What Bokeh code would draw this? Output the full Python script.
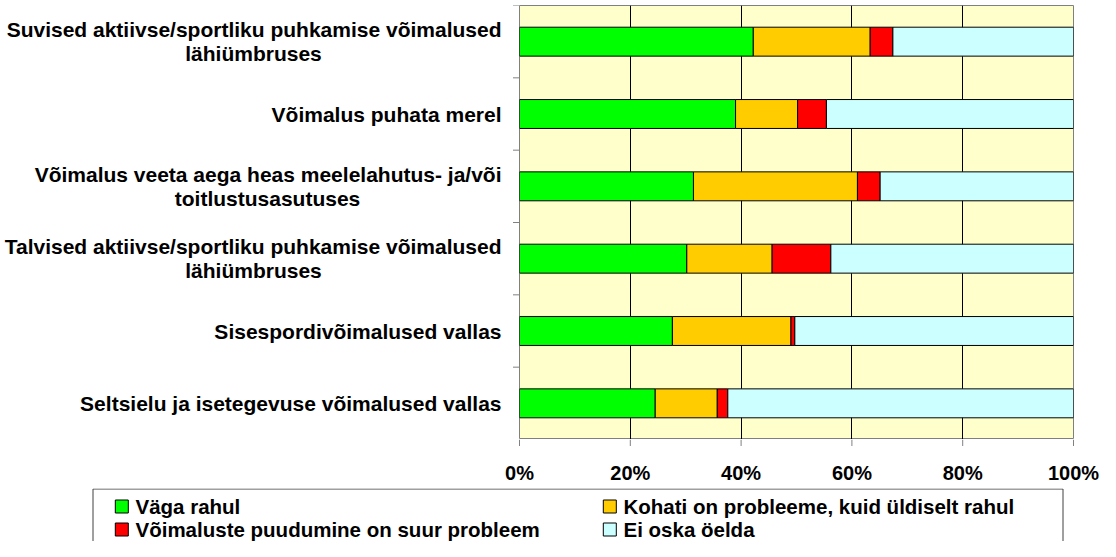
from bokeh.plotting import figure
from bokeh.layouts import column, row
from bokeh.models import ColumnDataSource, Range1d, FixedTicker
from bokeh.core.properties import value
from bokeh.embed import file_html
from bokeh.resources import INLINE

# ---------------- data ----------------
categories = [
    "Suvised aktiivse/sportliku puhkamise võimalused\nlähiümbruses",
    "Võimalus puhata merel",
    "Võimalus veeta aega heas meelelahutus- ja/või\ntoitlustusasutuses",
    "Talvised aktiivse/sportliku puhkamise võimalused\nlähiümbruses",
    "Sisespordivõimalused vallas",
    "Seltsielu ja isetegevuse võimalused vallas",
]
series_names = [
    "Väga rahul",
    "Kohati on probleeme, kuid üldiselt rahul",
    "Võimaluste puudumine on suur probleem",
    "Ei oska öelda",
]
vaga_rahul = [42.2, 39.0, 31.4, 30.2, 27.6, 24.5]
kohati = [21.1, 11.2, 29.6, 15.4, 21.4, 11.2]
puudumine = [4.1, 5.2, 4.1, 10.6, 0.7, 1.9]
ei_oska = [32.6, 44.6, 34.9, 43.8, 50.3, 62.4]
colors = ["#00FF00", "#FFCC00", "#FF0000", "#CCFFFF"]
x_ticks = [0, 20, 40, 60, 80, 100]
x_tick_labels = ["0%", "20%", "40%", "60%", "80%", "100%"]

FONT = "Liberation Sans"
n = len(categories)
keys = ["s0", "s1", "s2", "s3"]

src = ColumnDataSource(dict(
    y=[i + 0.5 for i in range(n)],
    s0=vaga_rahul, s1=kohati, s2=puudumine, s3=ei_oska,
))

W = 1100
yr = Range1d(n, 0)
TOP = 5
H_MAIN = 439          # page y 8 .. 447
H_X = 49              # page y 447 .. 496
H_LEG = 541 - H_MAIN - H_X
LW = 519
RB = 27
FRAME_W = W - LW - RB

common = dict(output_backend="svg", toolbar_location=None,
              border_fill_color="white")

# ---------------- main plot ----------------
p = figure(width=W - LW, height=H_MAIN, x_range=Range1d(0, 100), y_range=yr,
           min_border_left=0, min_border_right=RB,
           min_border_top=TOP, min_border_bottom=0,
           x_axis_type=None, y_axis_type=None,
           background_fill_color="#FFFFCC", outline_line_color="#808080", **common)
p.hbar_stack(keys, y="y", height=0.4, color=colors, line_color="black",
             line_width=1, source=src)
p.xgrid.visible = False
p.ygrid.visible = False
from bokeh.models import Grid
p.add_layout(Grid(dimension=0, ticker=FixedTicker(ticks=x_ticks[1:]),
                  grid_line_color="black", grid_line_width=1))

# ---------------- category labels + y tick marks ----------------
lf = figure(width=LW, height=H_MAIN, x_range=Range1d(0, LW), y_range=yr,
            x_axis_type=None, y_axis_type=None,
            min_border_left=0, min_border_right=0,
            min_border_top=TOP, min_border_bottom=0,
            outline_line_color=None, background_fill_color="white", **common)
lf.grid.visible = False
lf.segment(x0=[LW - 6.5] * (n + 1), x1=[LW] * (n + 1),
           y0=list(range(n + 1)), y1=list(range(n + 1)),
           line_color="#808080", line_width=1)

cat_px = (H_MAIN - TOP) / n
line_off = 12.0 / cat_px
second_line_center = [253, None, 267, 253, None, None]

r_x, r_y, r_t = [], [], []
c_x, c_y, c_t = [], [], []
for i, lab in enumerate(categories):
    parts = lab.split("\n")
    cy = i + 0.5
    if len(parts) == 1:
        r_x.append(501); r_y.append(cy); r_t.append(parts[0])
    else:
        r_x.append(501); r_y.append(cy - line_off); r_t.append(parts[0])
        c_x.append(second_line_center[i]); c_y.append(cy + line_off); c_t.append(parts[1])

cat_kw = dict(text_font=value(FONT), text_font_style="bold",
              text_font_size="21px", text_color="black", text_baseline="middle")
lf.text(x="x", y="y", text="t", text_align="right",
        source=ColumnDataSource(dict(x=r_x, y=r_y, t=r_t)), **cat_kw)
lf.text(x="x", y="y", text="t", text_align="center",
        source=ColumnDataSource(dict(x=c_x, y=c_y, t=c_t)), **cat_kw)

# ---------------- x tick marks + labels (same scale as the plot frame) ----------------
x_start = -LW * 100.0 / FRAME_W
x_end = (W - LW) * 100.0 / FRAME_W
xl = figure(width=W, height=H_X, x_range=Range1d(x_start, x_end), y_range=Range1d(H_X, 0),
            x_axis_type=None, y_axis_type=None,
            min_border_left=0, min_border_right=0, min_border_top=0, min_border_bottom=0,
            outline_line_color=None, background_fill_color="white", **common)
xl.grid.visible = False
xl.segment(x0=x_ticks, x1=x_ticks, y0=[0] * len(x_ticks), y1=[6.5] * len(x_ticks),
           line_color="#808080", line_width=1)
xl.text(x=x_ticks, y=[33] * len(x_ticks), text=x_tick_labels, text_align="center",
        text_baseline="middle", text_font=value(FONT), text_font_style="bold",
        text_font_size="20px", text_color="black")

# ---------------- legend ----------------
leg = figure(width=W, height=H_LEG, x_range=Range1d(0, W), y_range=Range1d(H_LEG, 0),
             x_axis_type=None, y_axis_type=None,
             min_border_left=0, min_border_right=0, min_border_top=0, min_border_bottom=0,
             outline_line_color=None, background_fill_color="white", **common)
leg.grid.visible = False
bx0, bx1 = 92.5, 1062.5
leg.multi_line(xs=[[bx0, bx0, bx1, bx1]], ys=[[H_LEG, 0.5, 0.5, H_LEG]],
               line_color="#404040", line_width=1)

col_x = [121.3, 609.3]
row_y = [18, 41]
sq_x, sq_y, t_x, t_y = [], [], [], []
for k in range(len(series_names)):
    cx = col_x[k % 2]
    ry = row_y[k // 2]
    sq_x.append(cx); sq_y.append(ry)
    t_x.append(cx + 13.7); t_y.append(ry)
leg.rect(x=sq_x, y=sq_y, width=13, height=13, fill_color=colors, line_color="black", line_width=1)
leg.text(x=t_x, y=t_y, text=series_names, text_align="left",
         text_font=value(FONT), text_font_style="bold", text_font_size="20.5px",
         text_color="black", text_baseline="middle")

layout = column(row(lf, p), xl, leg)
open("out.html", "w").write(file_html(layout, INLINE))
